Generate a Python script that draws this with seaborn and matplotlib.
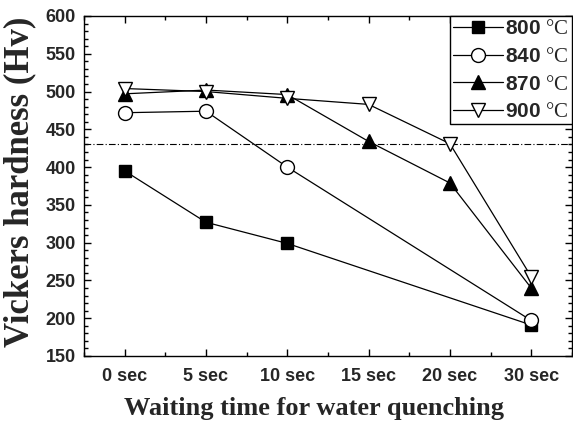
import numpy as np
import pandas as pd
import matplotlib
matplotlib.use("Agg")
import matplotlib.pyplot as plt
from matplotlib.ticker import MultipleLocator
import seaborn as sns

times = ["0 sec", "5 sec", "10 sec", "15 sec", "20 sec", "30 sec"]
temps = ["800", "840", "870", "900"]
hv_800 = [395, 327, 299, np.nan, np.nan, 191]
hv_840 = [472, 474, 400, np.nan, np.nan, 197]
hv_870 = [497, 502, 496, 434, 379, 240]
hv_900 = [504, 500, 491, 483, 431, 255]
ref_line = 430

series = [hv_800, hv_840, hv_870, hv_900]
markers = ["s", "o", "^", "v"]
faces = ["black", "white", "black", "white"]
msizes = [9, 10, 10.5, 10.5]

sns.set_theme(style="ticks")
plt.rcParams["font.family"] = ["Liberation Sans", "DejaVu Sans"]
plt.rcParams["mathtext.fontset"] = "custom"
plt.rcParams["mathtext.rm"] = "Liberation Serif"
plt.rcParams["mathtext.bf"] = "Liberation Serif:bold"

fig = plt.figure(figsize=(5.73, 4.21), dpi=100)
ax = fig.add_axes([0.1466, 0.1544, 0.8514, 0.8076])

xpos = np.arange(len(times))
for t, vals, m, fc, ms in zip(temps, series, markers, faces, msizes):
    df = pd.DataFrame({"x": xpos, "y": vals}).dropna()
    sns.lineplot(data=df, x="x", y="y", ax=ax, color="black", lw=0.9,
                 marker=m, markersize=ms, markerfacecolor=fc,
                 markeredgecolor="black", markeredgewidth=1.0,
                 label=t + r" $\mathrm{°C}$", sort=True)

ax.axhline(ref_line, color="black", lw=0.8, ls=(0, (6, 2, 1, 2)), zorder=1)

ax.set_xlim(-0.5, len(times) - 0.5)
ax.set_ylim(150, 600)
ax.set_xticks(xpos)
ax.set_xticklabels(times)
ax.xaxis.set_minor_locator(MultipleLocator(0.5))
ax.yaxis.set_major_locator(MultipleLocator(50))
ax.yaxis.set_minor_locator(MultipleLocator(10))
ax.tick_params(which="both", direction="in", top=True, right=True, width=1.0, color="black")
ax.tick_params(which="major", length=5, labelsize=13)
ax.tick_params(axis="x", which="major", pad=9)
ax.tick_params(axis="y", which="major", pad=6)
ax.tick_params(which="minor", length=3)
for lab in ax.get_xticklabels() + ax.get_yticklabels():
    lab.set_fontweight("bold")
for s in ax.spines.values():
    s.set_linewidth(1.0)
    s.set_color("black")

ax.set_xlabel("Waiting time for water quenching", fontsize=19, fontweight="bold",
              family="Liberation Serif")
ax.set_ylabel("Vickers hardness (Hv)", fontsize=25, fontweight="bold",
              family="Liberation Serif")
ax.xaxis.set_label_coords(0.471, -0.122)
ax.yaxis.set_label_coords(-0.098, 0.513)

leg = ax.legend(loc="upper right", borderaxespad=0.0, fancybox=False, frameon=True,
                edgecolor="black", fontsize=15, handlelength=2.4, handletextpad=0.1,
                labelspacing=0.42, borderpad=0.15)
leg.get_frame().set_linewidth(1.0)
leg.get_frame().set_alpha(1.0)
for txt in leg.get_texts():
    txt.set_fontweight("bold")

fig.savefig("out.png", dpi=100)
